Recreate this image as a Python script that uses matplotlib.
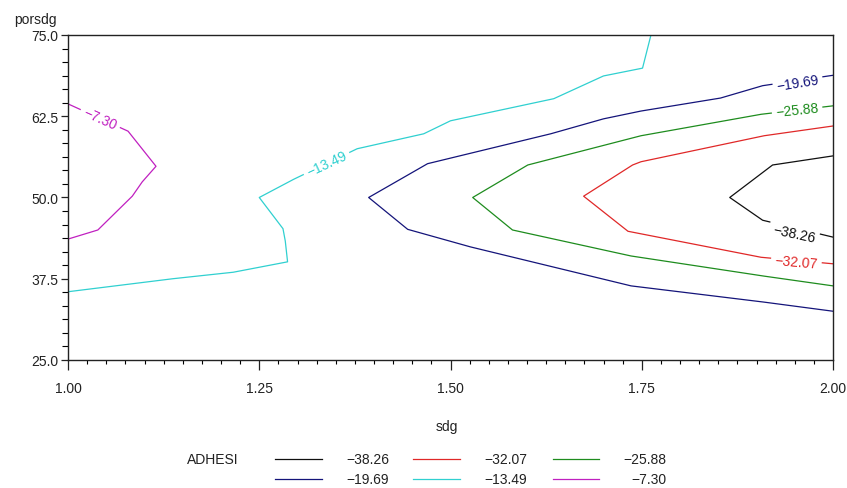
import matplotlib
matplotlib.use('Agg')
import matplotlib.pyplot as plt
from matplotlib.ticker import MultipleLocator
from matplotlib.lines import Line2D

plt.rcParams['font.family'] = ['Liberation Sans', 'DejaVu Sans']

levels = [-38.26, -32.07, -25.88, -19.69, -13.49, -7.30]
line_colors = ['#101010', '#e02828', '#1e8c1e', '#14147a', '#30d0d0', '#c020c0']

# contour paths: sdg (x), porsdg (y)
sdg_3826 = [2.0, 1.921, 1.865, 1.908, 2.0]
por_3826 = [56.4, 55.0, 50.0, 46.5, 43.9]

sdg_3207 = [2.0, 1.910, 1.749, 1.738, 1.674, 1.732, 1.906, 2.0]
por_3207 = [61.0, 59.5, 55.5, 55.0, 50.2, 44.8, 40.8, 39.8]

sdg_2588 = [2.0, 1.906, 1.749, 1.601, 1.529, 1.581, 1.736, 1.910, 2.0]
por_2588 = [64.1, 62.8, 59.5, 55.0, 50.0, 45.0, 41.0, 37.9, 36.4]

sdg_1969 = [2.0, 1.908, 1.853, 1.749, 1.700, 1.631, 1.470, 1.393, 1.444, 1.526, 1.736, 1.910, 2.0]
por_1969 = [68.8, 67.2, 65.3, 63.3, 62.1, 59.8, 55.2, 50.0, 45.1, 42.4, 36.4, 33.9, 32.5]

sdg_1349 = [1.0, 1.137, 1.216, 1.287, 1.284, 1.281, 1.25, 1.295, 1.378, 1.465, 1.5, 1.635, 1.70, 1.751, 1.762]
por_1349 = [35.5, 37.5, 38.5, 40.1, 43.3, 45.2, 50.0, 52.8, 57.5, 59.8, 61.8, 65.2, 68.7, 69.9, 75.0]

sdg_730 = [1.0, 1.0785, 1.115, 1.097, 1.084, 1.039, 1.0]
por_730 = [64.4, 60.2, 54.8, 52.4, 50.2, 45.0, 43.6]

paths = [(sdg_3826, por_3826), (sdg_3207, por_3207), (sdg_2588, por_2588),
         (sdg_1969, por_1969), (sdg_1349, por_1349), (sdg_730, por_730)]

# where each level's inline label sits and its angle
label_x = [1.949, 1.952, 1.953, 1.954, 1.338, 1.042]
label_y = [44.5, 40.1, 63.5, 67.6, 55.2, 62.1]
label_rot = [-12, -5, 6, 9, 25, -24]

fig = plt.figure(figsize=(8.47, 4.89), dpi=100)
ax = fig.add_axes([0.0803, 0.2618, 0.9032, 0.6646])

for (xs, ys), lev, col, lx, ly, rot in zip(paths, levels, line_colors, label_x, label_y, label_rot):
    ax.plot(xs, ys, color=col, lw=0.9, zorder=2)
    ax.text(lx, ly, '\u2212' + '%.2f' % abs(lev), color=col, fontsize=10,
            rotation=rot, rotation_mode='anchor', ha='center', va='center', zorder=3,
            bbox=dict(facecolor='white', edgecolor='none', pad=2.8))

ax.set_xlim(1.0, 2.0)
ax.set_ylim(25.0, 75.0)
ax.xaxis.set_major_locator(MultipleLocator(0.25))
ax.xaxis.set_minor_locator(MultipleLocator(0.025))
ax.yaxis.set_major_locator(MultipleLocator(12.5))
ax.yaxis.set_minor_locator(MultipleLocator(12.5 / 6))
ax.xaxis.set_major_formatter(matplotlib.ticker.FormatStrFormatter('%.2f'))
ax.yaxis.set_major_formatter(matplotlib.ticker.FormatStrFormatter('%.1f'))
ax.tick_params(axis='x', which='major', direction='out', length=7, width=0.9, pad=8,
               labelsize=10, colors='#222222')
ax.tick_params(axis='x', which='minor', direction='out', length=3, width=0.8)
ax.tick_params(axis='y', which='major', direction='out', length=5, width=0.9, pad=2,
               labelsize=10, colors='#222222')
ax.tick_params(axis='y', which='minor', direction='out', length=4.5, width=0.8)
for sp in ax.spines.values():
    sp.set_linewidth(1.0)
    sp.set_color('#222222')

fig.text(35 / 847, 1 - 20 / 489, 'porsdg', ha='center', va='center', fontsize=10, color='#222222')
fig.text(447 / 847, 1 - 427 / 489, 'sdg', ha='center', va='center', fontsize=10, color='#222222')

# legend laid out in three columns, two rows
fig.text(187 / 847, 1 - 460 / 489, 'ADHESI', ha='left', va='center', fontsize=10, color='#222222')
col_line = [(275, 322), (413, 460), (553, 599)]
col_text = [389, 527, 666]
row_y = [460, 480]
order = [0, 3, 1, 4, 2, 5]
for k, i in enumerate(order):
    c, r = k // 2, k % 2
    yy = 1 - row_y[r] / 489
    x0, x1 = col_line[c]
    fig.add_artist(Line2D([x0 / 847, x1 / 847], [yy, yy], color=line_colors[i], lw=0.9))
    fig.text(col_text[c] / 847, yy, '\u2212' + '%.2f' % abs(levels[i]), ha='right', va='center',
             fontsize=10, color='#222222')

fig.savefig('out.png', dpi=100)
